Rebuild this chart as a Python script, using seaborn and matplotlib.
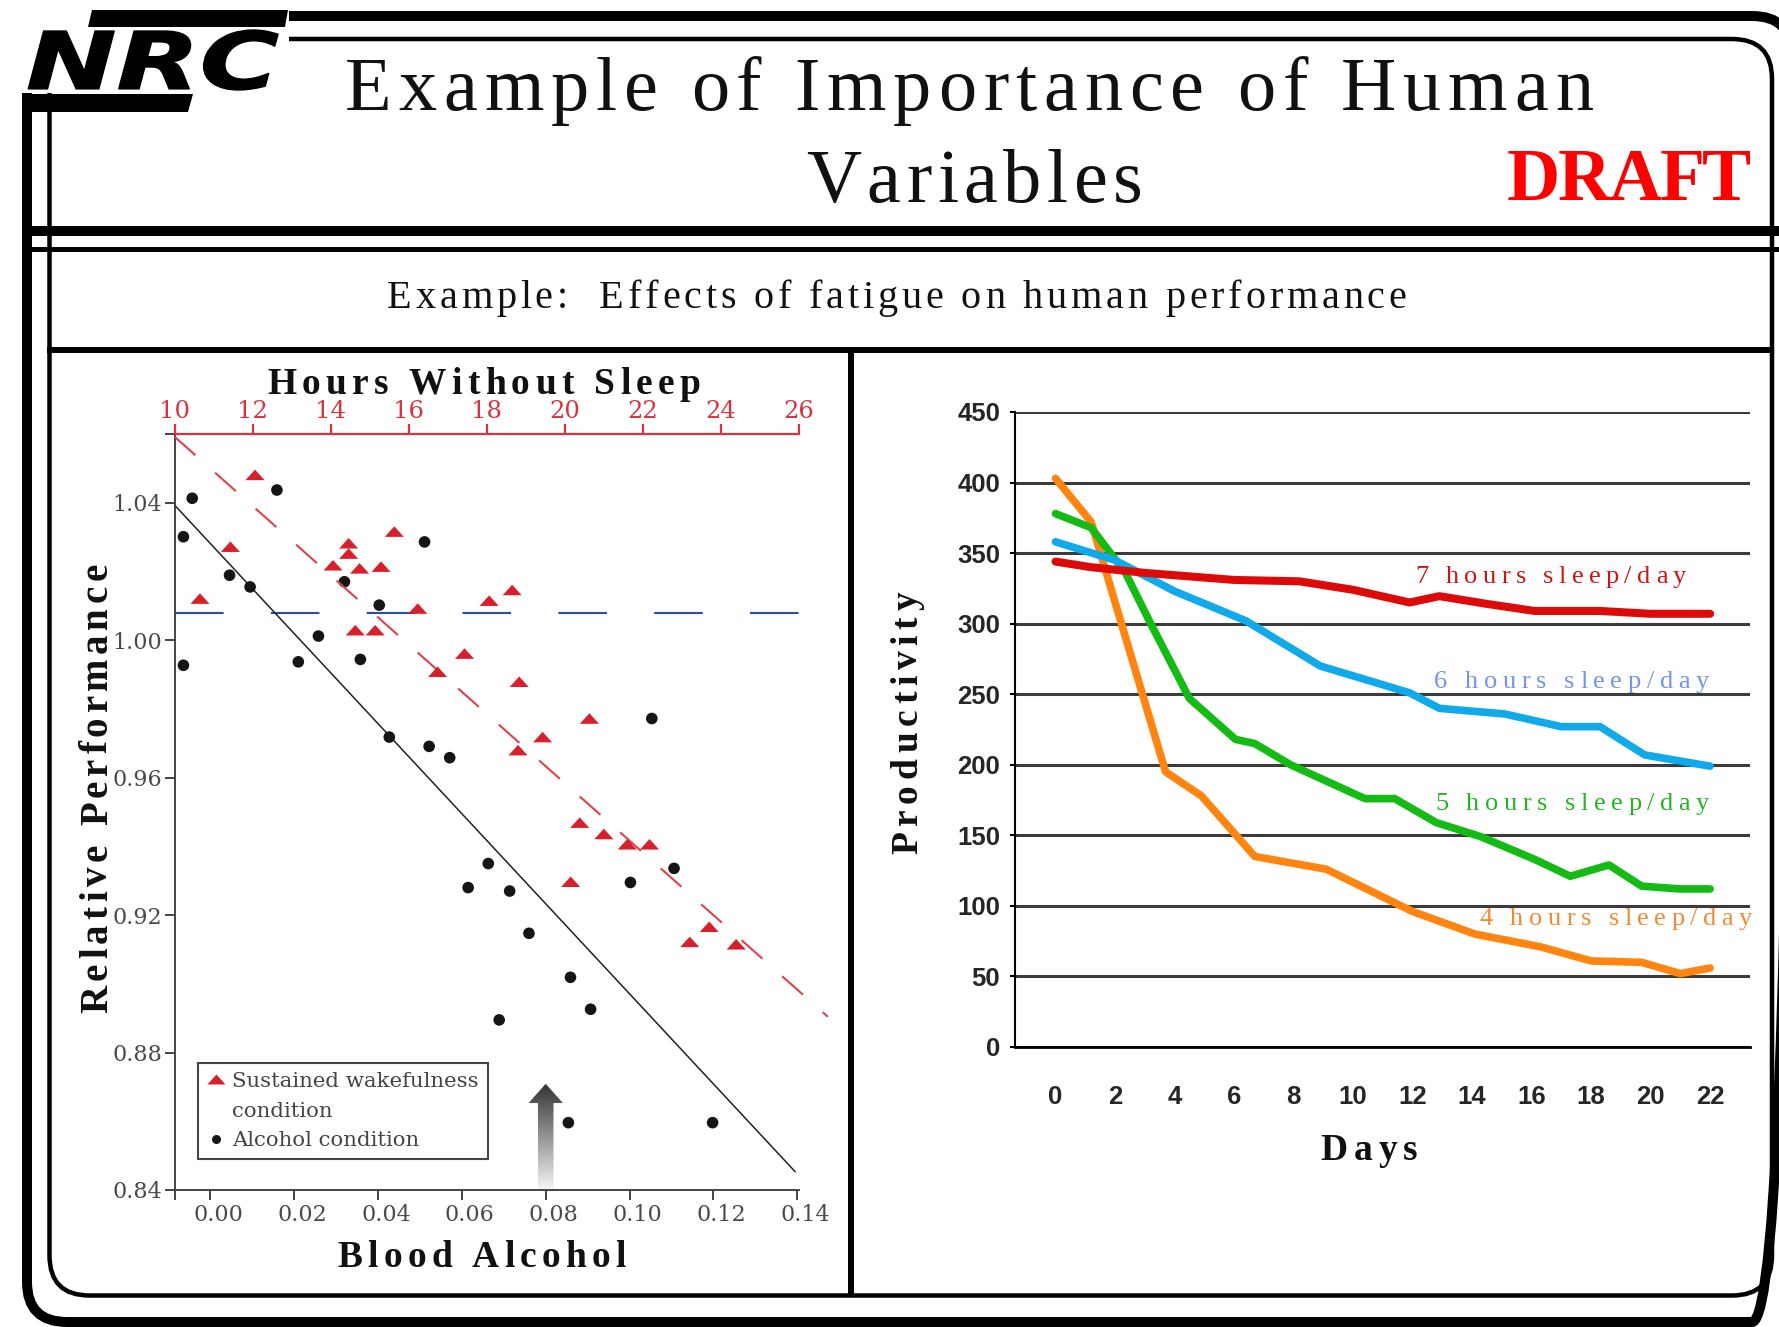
import numpy as np
import pandas as pd
import matplotlib
matplotlib.use("Agg")
import matplotlib.pyplot as plt
import seaborn as sns
from matplotlib.patches import FancyBboxPatch, Rectangle, Polygon, PathPatch
from matplotlib.lines import Line2D
from matplotlib.path import Path
from matplotlib.textpath import TextPath
from matplotlib.transforms import Affine2D, ScaledTranslation
from matplotlib.font_manager import findfont, FontProperties
from matplotlib.ft2font import FT2Font

W, H, DPI = 1779, 1327, 100

# ---------------- data : left panel ----------------
wake_hours = [12.06, 11.43, 10.65, 14.46, 14.46, 14.06, 14.74, 15.29, 15.63, 16.23,
              14.63, 15.14, 18.06, 18.65, 17.43, 16.74, 18.83, 20.63, 19.43, 18.80,
              20.38, 21.00, 21.60, 22.17, 20.15, 23.70, 23.20, 24.39]
wake_perf = [1.0481, 1.0272, 1.0121, 1.0282, 1.0252, 1.0218, 1.0209, 1.0214, 1.0316, 1.0092,
             1.0029, 1.0029, 1.0115, 1.0146, 0.9961, 0.9908, 0.9879, 0.9772, 0.9718, 0.9680,
             0.9469, 0.9436, 0.9406, 0.9406, 0.9297, 0.9166, 0.9122, 0.9115]
alc_bac = [-0.0043, -0.0064, -0.0064, 0.0046, 0.0095, 0.0159, 0.0320, 0.0403, 0.0511, 0.0210,
           0.0258, 0.0358, 0.0427, 0.0522, 0.0571, 0.1053, 0.0663, 0.0615, 0.0714, 0.0760,
           0.1106, 0.1002, 0.0859, 0.0907, 0.0689, 0.0854, 0.1198]
alc_perf = [1.0413, 1.0301, 0.9927, 1.0189, 1.0155, 1.0437, 1.0170, 1.0102, 1.0286, 0.9937,
            1.0012, 0.9944, 0.9718, 0.9691, 0.9658, 0.9772, 0.9350, 0.9280, 0.9270, 0.9147,
            0.9336, 0.9295, 0.9019, 0.8926, 0.8895, 0.8596, 0.8596]
alc_fit_x = [-0.0085, 0.1395]
alc_fit_y = [1.0393, 0.8453]
wake_fit_x = [10.0, 26.74]
wake_fit_y = [1.0592, 0.8904]
baseline_x = [-0.0085, 0.1404]
baseline_y = [1.008, 1.008]
bac_ticks = [0.00, 0.02, 0.04, 0.06, 0.08, 0.10, 0.12, 0.14]
hour_ticks = [10, 12, 14, 16, 18, 20, 22, 24, 26]
perf_ticks = [0.84, 0.88, 0.92, 0.96, 1.00, 1.04]
legal_limit_bac = 0.08

# ---------------- data : right panel ----------------
days_7 = [0, 1.2, 3, 6, 8.2, 10, 11.9, 12.9, 14.5, 16.1, 18.3, 20, 22]
prod_7 = [344, 340, 336, 331, 330, 324, 315, 319.5, 314, 309, 309, 307, 307]
days_6 = [0, 2, 4, 6.4, 8.9, 11.9, 12.9, 15.1, 17, 18.3, 19.8, 22]
prod_6 = [358, 345, 323, 302, 270, 251, 240, 236, 227, 227, 207, 199]
days_5 = [0, 1.2, 2.35, 3.2, 4.5, 6.05, 6.7, 7.9, 10.4, 11.4, 12.8, 14.3, 16.1, 17.3, 18.6, 19.7, 21, 22]
prod_5 = [378, 368, 336, 300, 247, 218, 215, 200, 176, 176, 159, 149, 133, 121, 129, 114, 112, 112]
days_4 = [0, 1.2, 3.7, 4.9, 6.7, 9.1, 12, 14.1, 16.3, 18, 19.7, 21, 22]
prod_4 = [403, 372, 195, 178, 135, 126, 96, 80, 71, 61, 60, 52, 56]
day_ticks = list(range(0, 23, 2))
prod_ticks = list(range(0, 451, 50))

# ---------------- style ----------------
sns.set_theme(style="white")
plt.rcParams.update({
    "font.family": ["Liberation Serif", "DejaVu Serif"],
    "lines.scale_dashes": False,
    "axes.facecolor": "none",
    "figure.facecolor": "white",
    "savefig.facecolor": "white",
})

RED_TRI = "#d8202c"
RED_AX = "#d8343e"
GRAY_TXT = "#4a4a4a"

fig = plt.figure(figsize=(W / DPI, H / DPI), dpi=DPI)


def fig_rect(x0, y0, x1, y1):
    return [x0 / W, (H - y1) / H, (x1 - x0) / W, (y1 - y0) / H]


# ================= left panel =================
axl = fig.add_axes(fig_rect(174.6, 434, 799, 1190))
axl.set_xlim(-0.0085, 0.1404)
axl.set_ylim(0.84, 1.06)
axt = axl.twiny()
axt.set_xlim(10, 26)
axt.set_ylim(0.84, 1.06)

axl.plot(baseline_x, baseline_y, color="#2c4ca8", lw=1.5, linestyle=(0, (35, 34)), zorder=2)
axl.plot(alc_fit_x, alc_fit_y, color="#222222", lw=1.1, zorder=3)
axt.plot(wake_fit_x, wake_fit_y, color="#e0404c", lw=1.5, linestyle=(0, (20, 19)),
         clip_on=False, zorder=3)

tri = Path([(-1, -0.55), (1, -0.55), (0, 0.55), (-1, -0.55)],
           [Path.MOVETO, Path.LINETO, Path.LINETO, Path.CLOSEPOLY])
sns.scatterplot(x=wake_hours, y=wake_perf, ax=axt, marker=tri, s=190, color=RED_TRI,
                edgecolor="none", linewidth=0, zorder=4, legend=False)
sns.scatterplot(x=alc_bac, y=alc_perf, ax=axl, marker="o", s=70, color="#151515",
                edgecolor="none", linewidth=0, zorder=4, legend=False)

# gradient arrow at the legal limit
tip, head_base = 0.8709, 0.8653
sh, hh = 0.00185, 0.0041
ax0 = legal_limit_bac
arrow_poly = Polygon([(ax0 - sh, 0.84), (ax0 + sh, 0.84), (ax0 + sh, head_base),
                      (ax0 + hh, head_base), (ax0, tip), (ax0 - hh, head_base),
                      (ax0 - sh, head_base)], closed=True, facecolor="none",
                     edgecolor="none", transform=axl.transData)
axl.add_patch(arrow_poly)
grad = np.linspace(0.96, 0.2, 256).reshape(-1, 1)
im = axl.imshow(grad, extent=[ax0 - hh, ax0 + hh, 0.84, tip], origin="lower", cmap="gray",
                vmin=0, vmax=1, aspect="auto", zorder=1)
im.set_clip_path(arrow_poly)
axl.set_xlim(-0.0085, 0.1404)
axl.set_ylim(0.84, 1.06)

for s in ["top", "right"]:
    axl.spines[s].set_visible(False)
for s in ["left", "right", "bottom"]:
    axt.spines[s].set_visible(False)
for s in ["left", "bottom"]:
    axl.spines[s].set_color("#444444")
    axl.spines[s].set_linewidth(1.4)
axt.spines["top"].set_color(RED_AX)
axt.spines["top"].set_linewidth(1.6)

axl.set_xticks(bac_ticks)
axl.set_xticklabels([f"{v:.2f}" for v in bac_ticks], fontfamily="DejaVu Serif",
                    fontsize=16, color=GRAY_TXT)
axl.set_yticks(perf_ticks)
axl.set_yticklabels([f"{v:.2f}" for v in perf_ticks], fontfamily="DejaVu Serif",
                    fontsize=16, color=GRAY_TXT)
axl.set_xticks([-0.0085], minor=True)
axl.set_yticks([1.06], minor=True)
axl.tick_params(axis="both", which="both", direction="out", length=7, width=1.4,
                color="#444444", left=True, bottom=True)
axl.tick_params(axis="x", pad=3)
axl.tick_params(axis="y", pad=2)
for lab in axl.get_xticklabels():
    lab.set_transform(lab.get_transform() + ScaledTranslation(8 / DPI, 0, fig.dpi_scale_trans))

axt.set_xticks(hour_ticks)
axt.set_xticklabels([str(h) for h in hour_ticks], fontfamily="DejaVu Serif", fontsize=17.5)
axt.tick_params(axis="x", colors=RED_AX, direction="out", length=7, width=1.6, pad=1)

leg_handles = [
    Line2D([], [], ls="none", marker=tri, markersize=13, color=RED_TRI, markeredgewidth=0),
    Line2D([], [], ls="none"),
    Line2D([], [], ls="none", marker="o", markersize=6.5, color="#151515", markeredgewidth=0),
]
leg = axl.legend(leg_handles, ["Sustained wakefulness", "condition", "Alcohol condition"],
                 loc="upper left", bbox_to_anchor=(0.0375, 0.168), borderaxespad=0,
                 prop={"family": "DejaVu Serif", "size": 15.3}, labelcolor="#444444",
                 handlelength=0.85, handletextpad=0.35, borderpad=0.42, labelspacing=0.5,
                 fancybox=False, framealpha=1, edgecolor="#444444")
leg.get_frame().set_linewidth(1.5)

# ================= right panel =================
axr = fig.add_axes(fig_rect(1015, 412, 1750, 1047))
axr.set_xlim(-1.361, 23.34)
axr.set_ylim(0, 450)
axr.set_yticks(prod_ticks)
axr.grid(axis="y", color="#3c3c3c", lw=2.2, zorder=0)
axr.grid(axis="x", visible=False)
sns.lineplot(x=days_4, y=prod_4, ax=axr, color="#ff8410", lw=5.5, sort=False,
             estimator=None, zorder=3)
sns.lineplot(x=days_5, y=prod_5, ax=axr, color="#14bb14", lw=5.5, sort=False,
             estimator=None, zorder=3)
sns.lineplot(x=days_6, y=prod_6, ax=axr, color="#10aaea", lw=5.5, sort=False,
             estimator=None, zorder=3)
sns.lineplot(x=days_7, y=prod_7, ax=axr, color="#dd0a0a", lw=5.8, sort=False,
             estimator=None, zorder=3)
axr.set_xlim(-1.361, 23.34)
axr.set_ylim(0, 450)
for s in ["top", "right"]:
    axr.spines[s].set_visible(False)
axr.spines["left"].set_color("black")
axr.spines["left"].set_linewidth(1.5)
axr.spines["bottom"].set_color("black")
axr.spines["bottom"].set_linewidth(2.0)
axr.set_xticks(day_ticks)
axr.set_xticklabels([str(d) for d in day_ticks], fontfamily="Liberation Sans",
                    fontweight="bold", fontsize=18.5)
axr.set_yticklabels([str(p) for p in prod_ticks], fontfamily="Liberation Sans",
                    fontweight="bold", fontsize=18.5)
axr.tick_params(axis="x", length=0, pad=27)
axr.tick_params(axis="y", direction="out", length=3.6, width=1.5, color="black", pad=7,
                left=True)
axr.set_xlabel("")
axr.set_ylabel("")

# ================= overlay : frame + texts =================
ov = fig.add_axes([0, 0, 1, 1])
ov.set_xlim(0, W)
ov.set_ylim(H, 0)
ov.axis("off")
ov.set_zorder(10)

PX = 72.0 / DPI
ov.add_patch(FancyBboxPatch((27, 16), 1765, 1306, boxstyle="round,pad=0,rounding_size=40",
                            fill=False, ec="black", lw=10 * PX))
ov.add_patch(FancyBboxPatch((49.5, 39), 1722.5, 1256.5, boxstyle="round,pad=0,rounding_size=40",
                            fill=False, ec="black", lw=4.5 * PX))
ov.plot([27, W], [231, 231], color="black", lw=10 * PX, solid_capstyle="butt")
ov.plot([27, W], [248.5, 248.5], color="black", lw=5 * PX, solid_capstyle="butt")
ov.plot([47, 1772], [350, 350], color="black", lw=6 * PX, solid_capstyle="butt")
ov.plot([851, 851], [350, 1295.5], color="black", lw=6 * PX, solid_capstyle="butt")

# logo
ov.add_patch(Rectangle((0, 0), 289, 93, facecolor="white", edgecolor="none", zorder=3))
ov.add_patch(Polygon([(92, 10), (288, 10), (285, 27), (88, 27)], closed=True,
                     facecolor="black", edgecolor="none", zorder=4))
ov.add_patch(Polygon([(25, 94), (193, 94), (188, 112), (22, 112)], closed=True,
                     facecolor="black", edgecolor="none", zorder=4))
logo_path = TextPath((0, 0), "NRC", size=100,
                     prop=FontProperties(family="DejaVu Sans", weight="bold", style="oblique"))
lx0, ly0 = logo_path.vertices.min(axis=0)
lx1, ly1 = logo_path.vertices.max(axis=0)
logo_tr = (Affine2D().translate(-lx0, -ly0).scale(252 / (lx1 - lx0), -60 / (ly1 - ly0))
           .translate(26, 90))
ov.add_patch(PathPatch(logo_tr.transform_path(logo_path), facecolor="black",
                       edgecolor="black", lw=1.0, zorder=5))

_paths = {}


def tracked_text(x, y, s, size, width=None, family="Liberation Serif", weight="normal",
                 style="normal", color="#111111", rotation=0, zorder=6):
    key = (family, weight, style)
    if key not in _paths:
        _paths[key] = findfont(FontProperties(family=family, weight=weight, style=style))
    f = FT2Font(_paths[key])
    f.set_size(size, DPI)
    advs, bears, wids = [], [], []
    for c in s:
        g = f.load_char(ord(c))
        advs.append(g.linearHoriAdvance / 65536.0)
        bears.append(g.horiBearingX / 64.0)
        wids.append(g.width / 64.0)
    natural = sum(advs[:-1]) + bears[-1] + wids[-1] - bears[0]
    track = (width - natural) / max(len(s) - 1, 1) if width else 0.0
    pos = -bears[0]
    for c, a in zip(s, advs):
        if c != " ":
            kw = dict(fontsize=size, fontfamily=family, fontweight=weight, fontstyle=style,
                      color=color, ha="left", va="baseline", rotation_mode="anchor",
                      zorder=zorder)
            if rotation == 0:
                ov.text(x + pos, y, c, **kw)
            else:
                ov.text(x, y - pos, c, rotation=90, **kw)
        pos += a + track


tracked_text(347, 110, "Example of Importance of Human", 55, width=1245)
tracked_text(807, 202, "Variables", 55, width=333)
tracked_text(1508, 200, "DRAFT", 53, width=242, weight="bold", color="#ff0000")
tracked_text(388, 308, "Example:  Effects of fatigue on human performance", 29, width=1017)

# left panel labels
tracked_text(268, 394, "Hours Without Sleep", 27, width=431, weight="bold")
tracked_text(338, 1267, "Blood Alcohol", 27, width=287, weight="bold")
tracked_text(107, 1012, "Relative Performance", 28, width=448, weight="bold", rotation=90)

# right panel labels
tracked_text(917, 853, "Productivity", 27, width=261, weight="bold", rotation=90)
tracked_text(1321, 1160, "Days", 27, width=96, weight="bold")
tracked_text(1417, 583, "7 hours sleep/day", 19, width=269, color="#cc1515")
tracked_text(1435, 688, "6 hours sleep/day", 19, width=274, color="#7394ea")
tracked_text(1437, 810, "5 hours sleep/day", 19, width=272, color="#22b522")
tracked_text(1480, 925, "4 hours sleep/day", 19, width=272, color="#f28a32")

fig.savefig("out.png", dpi=DPI)
